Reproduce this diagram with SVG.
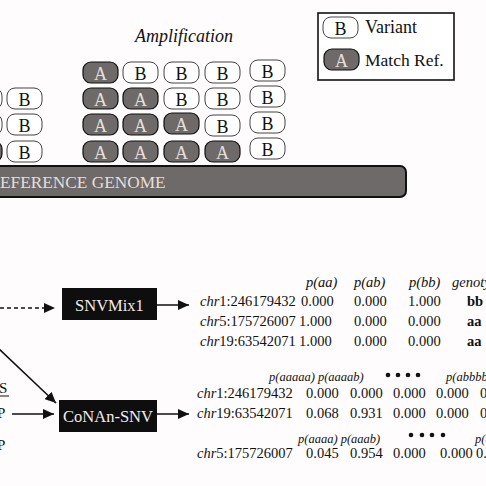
<svg xmlns="http://www.w3.org/2000/svg" width="486" height="486" viewBox="0 0 486 486">
<defs>
<style>
text{font-family:"Liberation Serif","Times New Roman",serif;fill:#111}
.ra{fill:#6d6a69;stroke:#111;stroke-width:1.2}
.rb{fill:#fff;stroke:#444;stroke-width:1}
.ta{fill:#e6dedb;font-size:18px;text-anchor:middle}
.tb{fill:#111;font-size:18px;text-anchor:middle}
.box rect{fill:#0e0e0e}
.box text{fill:#f2ece8;font-size:16.5px;text-anchor:middle}
.d{font-size:14.5px}
.h{font-size:14.5px;font-style:italic}
.hs{font-size:12.5px;font-style:italic}
.b{font-size:14.5px;font-weight:bold}
.conn line{stroke:#111;stroke-width:1.5;fill:none}
</style>
<marker id="ah" markerWidth="11" markerHeight="10" refX="11" refY="5" orient="auto" markerUnits="userSpaceOnUse">
<path d="M0,0 L11,5 L0,10 Z" fill="#111"/>
</marker>
<g id="bA"><rect class="ra" x="0" y="0" width="35" height="21" rx="8"/><text class="ta" x="17.5" y="17.5">A</text></g>
<g id="bB"><rect class="rb" x="0" y="0" width="35" height="21" rx="8"/><text class="tb" x="17.5" y="17.5">B</text></g>
</defs>
<rect width="486" height="486" fill="#fefcfc"/>

<text x="184" y="42" font-size="18" font-style="italic" text-anchor="middle">Amplification</text>

<g id="left-stack">
<use href="#bB" x="-33" y="88"/>
<use href="#bB" x="-33" y="114"/>
<use href="#bA" x="-33" y="141"/>
<use href="#bB" x="7" y="88"/>
<use href="#bB" x="7" y="114"/>
<use href="#bB" x="7" y="141"/>
</g>

<g id="amplification-stack">
<use href="#bA" x="83" y="62"/>
<use href="#bB" x="123" y="62"/>
<use href="#bB" x="164" y="62"/>
<use href="#bB" x="205" y="62"/>
<use href="#bB" x="250" y="60"/>
<use href="#bA" x="83" y="88"/>
<use href="#bA" x="123" y="88"/>
<use href="#bB" x="164" y="88"/>
<use href="#bB" x="205" y="88"/>
<use href="#bB" x="250" y="86"/>
<use href="#bA" x="83" y="114"/>
<use href="#bA" x="123" y="114"/>
<use href="#bA" x="164" y="113"/>
<use href="#bB" x="205" y="115"/>
<use href="#bB" x="250" y="112"/>
<use href="#bA" x="83" y="141"/>
<use href="#bA" x="123" y="141"/>
<use href="#bA" x="164" y="141"/>
<use href="#bA" x="205" y="141"/>
<use href="#bB" x="250" y="138"/>
</g>

<g id="reference-genome">
<rect x="-20" y="166" width="426" height="31" rx="6" fill="#6d6a69" stroke="#111" stroke-width="2"/>
<text x="-11.5" y="188" font-size="17.3" style="fill:#e6dedb">REFERENCE GENOME</text>
</g>

<g id="legend">
<rect x="318" y="13" width="136" height="67" fill="#fff" stroke="#111" stroke-width="1.6"/>
<use href="#bB" x="323" y="17"/>
<text x="365" y="33" font-size="18">Variant</text>
<use href="#bA" x="324" y="49"/>
<text x="365" y="66" font-size="17.5">Match Ref.</text>
</g>

<g id="left-labels">
<text x="-1" y="393" font-size="15">S</text>
<line x1="-1" y1="396" x2="9" y2="396" stroke="#111" stroke-width="1"/>
<text x="-3" y="418" font-size="15">P</text>
<text x="-3" y="450" font-size="15">P</text>
</g>

<g id="snvmix1" class="box">
<rect x="62" y="288" width="95" height="32"/>
<text x="109.5" y="311">SNVMix1</text>
</g>

<g id="conan-snv" class="box">
<rect x="59" y="400" width="98" height="32"/>
<text x="108" y="422">CoNAn-SNV</text>
</g>

<g id="connectors" class="conn">
<line x1="0" y1="308" x2="55" y2="308" stroke-dasharray="4,3" marker-end="url(#ah)"/>
<line x1="157" y1="305" x2="189" y2="305" marker-end="url(#ah)"/>
<line x1="-2" y1="348" x2="56" y2="403" marker-end="url(#ah)"/>
<line x1="12" y1="414" x2="54" y2="414" marker-end="url(#ah)"/>
<line x1="157" y1="414" x2="189" y2="414" marker-end="url(#ah)"/>
</g>

<g id="snvmix1-output">
<text class="h" x="306" y="287">p(aa)</text>
<text class="h" x="354" y="287">p(ab)</text>
<text class="h" x="409" y="287">p(bb)</text>
<text class="h" x="452" y="287">genotype</text>
<text class="d" x="200" y="306"><tspan font-style="italic">chr</tspan>1:246179432</text>
<text class="d" x="301" y="306">0.000</text>
<text class="d" x="354" y="306">0.000</text>
<text class="d" x="408" y="306">1.000</text>
<text class="b" x="467" y="306">bb</text>
<text class="d" x="200" y="326"><tspan font-style="italic">chr</tspan>5:175726007</text>
<text class="d" x="299" y="326">1.000</text>
<text class="d" x="354" y="326">0.000</text>
<text class="d" x="408" y="326">0.000</text>
<text class="b" x="467" y="326">aa</text>
<text class="d" x="200" y="346"><tspan font-style="italic">chr</tspan>19:63542071</text>
<text class="d" x="299" y="346">1.000</text>
<text class="d" x="354" y="346">0.000</text>
<text class="d" x="408" y="346">0.000</text>
<text class="b" x="467" y="346">aa</text>
</g>

<g id="conan-output">
<text class="hs" x="269" y="381">p(aaaaa) p(aaaab)</text>
<g fill="#111"><circle cx="388" cy="375" r="2.3"/><circle cx="398" cy="375" r="2.3"/><circle cx="408" cy="375" r="2.3"/><circle cx="418" cy="375" r="2.3"/></g>
<text class="hs" x="446" y="381">p(abbbb)</text>
<text class="d" x="197" y="398"><tspan font-style="italic">chr</tspan>1:246179432</text>
<text class="d" x="306" y="398">0.000</text>
<text class="d" x="350" y="398">0.000</text>
<text class="d" x="393" y="398">0.000</text>
<text class="d" x="436" y="398">0.000</text>
<text class="d" x="480" y="398">0.000</text>
<text class="d" x="197" y="418"><tspan font-style="italic">chr</tspan>19:63542071</text>
<text class="d" x="306" y="418">0.068</text>
<text class="d" x="350" y="418">0.931</text>
<text class="d" x="393" y="418">0.000</text>
<text class="d" x="436" y="418">0.000</text>
<text class="d" x="480" y="418">0.000</text>
<text class="hs" x="298" y="443">p(aaaa) p(aaab)</text>
<g fill="#111"><circle cx="411" cy="435" r="2.3"/><circle cx="422" cy="435" r="2.3"/><circle cx="432" cy="435" r="2.3"/><circle cx="443" cy="435" r="2.3"/></g>
<text class="hs" x="475" y="443">p(abbb)</text>
<text class="d" x="197" y="458"><tspan font-style="italic">chr</tspan>5:175726007</text>
<text class="d" x="306" y="458">0.045</text>
<text class="d" x="350" y="458">0.954</text>
<text class="d" x="393" y="458">0.000</text>
<text class="d" x="440" y="458">0.000</text>
<text class="d" x="476" y="458">0.000</text>
</g>
</svg>
